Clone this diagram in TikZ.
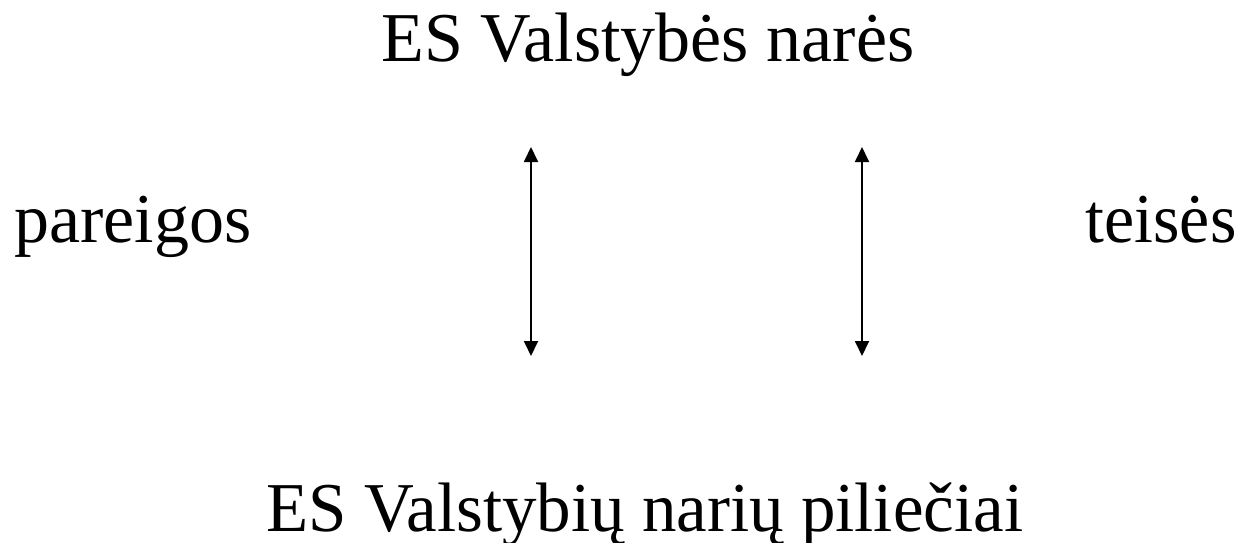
\documentclass[tikz,border=0pt]{standalone}
\usepackage{fontspec}
\setmainfont{Liberation Serif}
\usetikzlibrary{arrows.meta}
\begin{document}
\begin{tikzpicture}[x=1pt,y=-1pt,
  lbl/.style={inner sep=0pt, font=\fontsize{70}{80}\selectfont, anchor=base},
  dbl/.style={line width=1.8pt, {Triangle[length=15pt,width=14pt]}-{Triangle[length=15pt,width=14pt]}}]
\useasboundingbox (0,0) rectangle (1245,543);
\node[lbl] (top) at (648,62) {ES Valstybės narės};
\node[lbl, xscale=0.985] (bot) at (645,531) {ES Valstybių narių piliečiai};
\node[lbl] (left) at (133,242) {pareigos};
\node[lbl, xscale=0.97] (right) at (1161,242) {teisės};
\coordinate (a1) at (531,147);
\coordinate (a2) at (531,356);
\coordinate (b1) at (862,147);
\coordinate (b2) at (862,356);
\draw[dbl] (a1) -- (a2);
\draw[dbl] (b1) -- (b2);
\end{tikzpicture}
\end{document}
